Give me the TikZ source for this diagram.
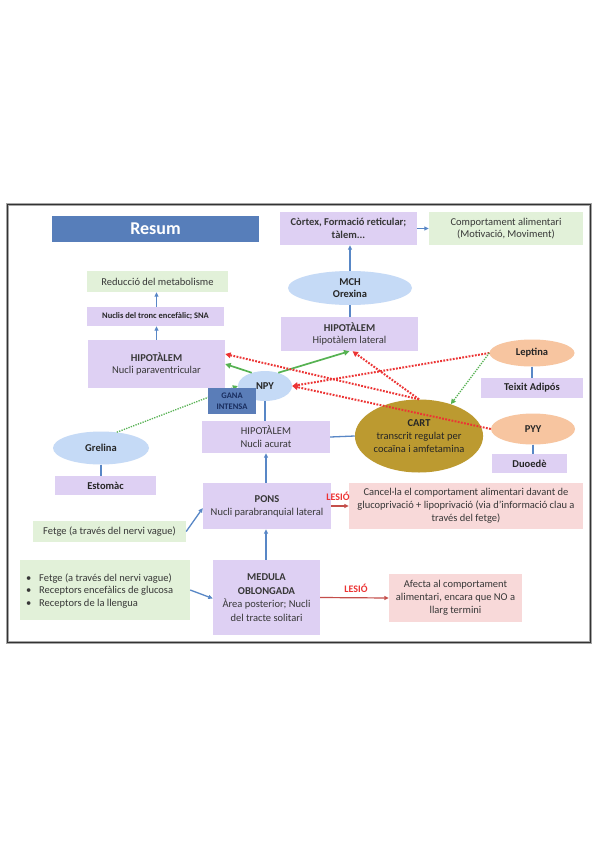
\documentclass[tikz,border=0pt]{standalone}
\usepackage{fontspec}
\setmainfont{Carlito}
\usetikzlibrary{shapes.geometric,arrows.meta,calc}
\definecolor{lav}{RGB}{222,208,243}
\definecolor{grn}{RGB}{226,241,217}
\definecolor{pnk}{RGB}{248,217,217}
\definecolor{lblue}{RGB}{197,218,246}
\definecolor{peach}{RGB}{247,197,160}
\definecolor{gold}{RGB}{188,154,48}
\definecolor{hdr}{RGB}{87,126,186}
\definecolor{gana}{RGB}{90,125,184}
\definecolor{ganatxt}{RGB}{25,45,95}
\definecolor{bl}{RGB}{88,135,198}
\definecolor{rd}{RGB}{236,52,52}
\definecolor{drd}{RGB}{196,78,74}
\definecolor{gr}{RGB}{86,178,82}
\definecolor{txt}{RGB}{55,55,55}
\newcommand{\fs}{\fontsize{10.5}{12.8}\selectfont}
\newcommand{\fsm}{\fontsize{8.5}{10.5}\selectfont}
\begin{document}
\begin{tikzpicture}[x=1pt,y=-1pt,
  sz/.style 2 args={minimum width=#1, minimum height=#2},
  box/.style={rectangle, inner sep=1pt, align=center, font=\fs, text=txt},
  lavbox/.style={box, fill=lav},
  grnbox/.style={box, fill=grn},
  pnkbox/.style={box, fill=pnk},
  ell/.style={ellipse, inner sep=0pt, align=center, font=\fs\bfseries, text=black!85},
  barrow/.style={draw=bl, line width=1.3pt, -{Triangle[length=4.5pt,width=4pt]}},
  bline/.style={draw=bl, line width=1.3pt},
  rarrow/.style={draw=drd, line width=1.2pt, -{Triangle[length=4.5pt,width=4pt]}},
  rdot/.style={draw=rd, line width=2pt, dash pattern=on 1.8pt off 1.4pt, -{Triangle[length=5.5pt,width=5.5pt]}},
  gsolid/.style={draw=gr, line width=1.7pt, -{Triangle[length=5.5pt,width=5.5pt]}},
  gdot/.style={draw=gr, line width=1.3pt, dash pattern=on 1.3pt off 1.2pt, -{Triangle[length=5pt,width=5pt]}},
  lesio/.style={font=\fontsize{10}{12}\selectfont\bfseries, text=rd, inner sep=0pt}
]
\useasboundingbox (0,0) rectangle (599,848);
\fill[white] (0,0) rectangle (599,848);
% frame
\draw[line width=3pt, black!35] (7.5,204.5) rectangle (590.5,642.5);
\draw[line width=1.3pt, black!80] (7.5,204.5) rectangle (590.5,642.5);

% header
\node[rectangle, fill=hdr, sz={207pt}{26pt}, font=\fontsize{18}{20}\selectfont\bfseries, text=white] (resum) at (155.5,229) {Resum};

% top right
\node[lavbox, sz={137pt}{33pt}] (cortex) at (348.5,228.5) {\textbf{Còrtex, Formació reticular;}\\\textbf{tàlem...}};
\node[grnbox, sz={154pt}{33pt}] (comport) at (506,228.5) {Comportament alimentari\\(Motivació, Moviment)};
\node[ell, fill=lblue, sz={124pt}{34pt}] (mch) at (350,288) {MCH\\Orexina};
\node[lavbox, sz={137pt}{34pt}] (lateral) at (349.5,334) {\textbf{HIPOTÀLEM}\\Hipotàlem lateral};

% top left
\node[grnbox, sz={141pt}{21pt}] (reduccio) at (157.5,281.5) {Reducció del metabolisme};
\node[lavbox, sz={137pt}{19pt}, font=\fsm\bfseries, text=black!85] (nuclis) at (155.5,316.5) {Nuclis del tronc encefàlic; SNA};
\node[lavbox, sz={137pt}{48pt}] (paravent) at (156.5,364) {\textbf{HIPOTÀLEM}\\Nucli paraventricular};

% middle
\node[ell, fill=lblue, sz={54pt}{30pt}] (npy) at (265,386) {NPY};
\node[lavbox, sz={128pt}{32pt}] (acurat) at (266,437) {HIPOTÀLEM\\Nucli acurat};
\node[ell, fill=lblue, sz={96pt}{33pt}] (grelina) at (101,448) {Grelina};
\node[lavbox, sz={101pt}{19pt}, font=\fs\bfseries, text=black!85] (estomac) at (105.5,485.5) {Estomàc};
\node[ell, fill=gold, sz={125pt}{73pt}, font=\fs, text=black!85] (cart) at (419,436) {\textbf{CART}\\transcrit regulat per\\cocaïna i amfetamina};
\node[ell, fill=peach, sz={85pt}{27pt}] (leptina) at (532,353) {Leptina};
\node[lavbox, sz={102pt}{20pt}, font=\fs\bfseries, text=black!85] (teixit) at (532,388) {Teixit Adipós};
\node[ell, fill=peach, sz={84pt}{31pt}] (pyy) at (533,429) {PYY};
\node[lavbox, sz={75pt}{19pt}, font=\fs\bfseries, text=black!85] (duoede) at (529.5,463.5) {Duoedè};

% bottom
\node[lavbox, sz={128pt}{46pt}] (pons) at (267,506) {\textbf{PONS}\\Nucli parabranquial lateral};
\node[pnkbox, sz={234pt}{46pt}] (cancel) at (466,506) {Cancel·la el comportament alimentari davant de\\glucoprivació + lipoprivació (via d’informació clau a\\través del fetge)};
\node[grnbox, sz={153pt}{21pt}] (fetge) at (109.5,531.5) {Fetge (a través del nervi vague)};
\node[grnbox, sz={170pt}{60pt}] (bullets) at (105,590) {};
\node[box, anchor=west, align=left, inner sep=0pt] (bullettxt) at (26,591) {\makebox[13pt][l]{•}Fetge (a través del nervi vague)\\\makebox[13pt][l]{•}Receptors encefàlics de glucosa\\\makebox[13pt][l]{•}Receptors de la llengua};
\node[lavbox, sz={107pt}{75pt}, font=\fontsize{10.5}{13.5}\selectfont] (medula) at (266.5,597.5) {\textbf{MEDULA}\\\textbf{OBLONGADA}\\Àrea posterior; Nucli\\del tracte solitari};
\node[pnkbox, sz={133pt}{48pt}] (afecta) at (455.5,598) {Afecta al comportament\\alimentari, encara que NO a\\llarg termini};

% blue connectors
\draw[barrow] (nuclis.north -| paravent.north) -- (paravent.north |- reduccio.south);
\draw[barrow] (paravent.north) -- (paravent.north |- nuclis.south);
\draw[barrow] (mch.north) -- (mch.north |- cortex.south);
\draw[bline] (lateral.north -| mch.south) -- (mch.south);
\draw[barrow] (cortex.east) -- (comport.west);
\draw[bline] (npy.south) -- (npy.south |- acurat.north);
\draw[bline] (acurat.east) -- (cart.west);
\draw[barrow] (acurat.south |- pons.north) -- (acurat.south);
\draw[barrow] (medula.north -| acurat.south) -- (pons.south -| acurat.south);
\draw[barrow] (fetge.east) -- ([yshift=-2pt]pons.west);
\draw[barrow] (bullets.east) -- ([yshift=-1pt]medula.west);
\draw[bline] (grelina.south) -- (grelina.south |- estomac.north);
\draw[bline] (leptina.south) -- (leptina.south |- teixit.north);
\draw[bline] (pyy.south) -- (pyy.south |- duoede.north);

% lesions
\draw[rarrow] (pons.east) -- (cancel.west);
\node[lesio] (les1) at (338,496) {LESIÓ};
\draw[rarrow] (medula.east) -- (afecta.west);
\node[lesio] (les2) at (356,588) {LESIÓ};

% green solid
\draw[gsolid] (npy.135) -- (paravent.east);
\draw[gsolid] (npy.45) -- (lateral.south);

% red dotted
\draw[rdot] (cart.north) -- ([yshift=10pt]paravent.east);
\draw[rdot] (cart.north) -- ([xshift=3pt]lateral.south);
\draw[rdot] (leptina.west) -- (npy.east);
\draw[rdot] (pyy.west) -- (npy.east);

% green dotted
\draw[gdot] (grelina.45) -- (npy.west);
\draw[gdot] (leptina.west) -- (cart.45);

% gana intensa on top
\node[rectangle, fill=gana, sz={48pt}{26pt}, inner sep=0pt, align=center, font=\fsm\bfseries, text=ganatxt] (gana) at (232,401) {GANA\\INTENSA};
\end{tikzpicture}
\end{document}
